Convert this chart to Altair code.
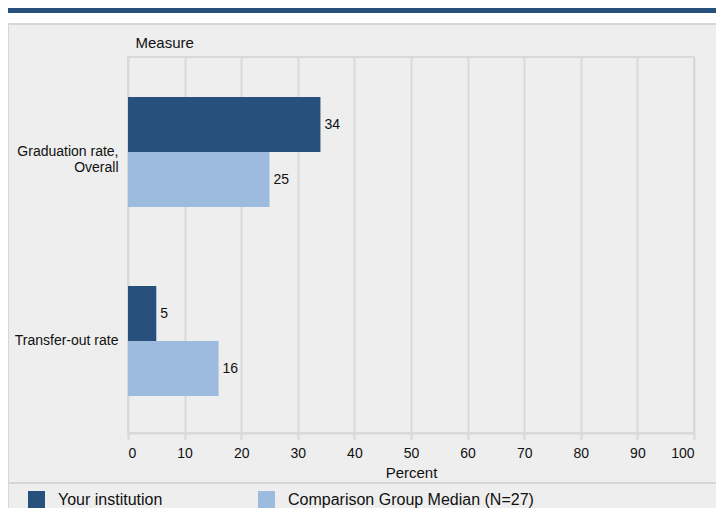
import altair as alt
import pandas as pd

measures = ["Graduation rate, Overall", "Transfer-out rate"]
series = ["Your institution", "Comparison Group Median (N=27)"]
your_values = [34, 5]
comparison_values = [25, 16]
x_ticks = [0, 10, 20, 30, 40, 50, 60, 70, 80, 90, 100]

DARK = "#27507C"
LIGHT = "#9DBBDF"
GRID = "#d9d9d9"
FONT = "Liberation Sans"

rows = []
for m, a, b in zip(measures, your_values, comparison_values):
    rows.append({"Measure": m, "Series": series[0], "Value": a})
    rows.append({"Measure": m, "Series": series[1], "Value": b})
df = pd.DataFrame(rows)

W, H = 566, 376
PL, PT, PR, PB = 120, 49, 22, 75

y_enc = alt.Y(
    "Measure:N",
    sort=measures,
    scale=alt.Scale(paddingInner=0.418, paddingOuter=0.2037, align=0.52),
    axis=alt.Axis(
        title="Measure",
        titleAngle=0,
        titleAlign="left",
        titleBaseline="alphabetic",
        titleX=7,
        titleY=-10,
        titleFontSize=15,
        titleFontWeight="normal",
        titleFont=FONT,
        titleColor="#111",
        labelFont=FONT,
        labelFontSize=14,
        labelColor="#111",
        labelPadding=10,
        labelLineHeight=16,
        labelExpr="datum.label == 'Graduation rate, Overall' ? ['Graduation rate,', 'Overall'] : datum.label",
        ticks=False,
        domain=False,
        grid=False,
    ),
)

x_enc = alt.X(
    "Value:Q",
    scale=alt.Scale(domain=[0, 100], nice=False),
    axis=alt.Axis(
        title="Percent",
        values=x_ticks,
        titleFont=FONT,
        titleFontSize=15,
        titleFontWeight="normal",
        titleColor="#111",
        titleBaseline="alphabetic",
        titleY=44,
        labelFont=FONT,
        labelFontSize=14,
        labelColor="#111",
        labelBaseline="alphabetic",
        labelPadding=17,
        tickSize=7,
        tickColor=GRID,
        tickWidth=2,
        domainColor=GRID,
        domainWidth=2,
        gridColor=GRID,
        gridWidth=2,
    ),
)

color_enc = alt.Color(
    "Series:N",
    sort=series,
    scale=alt.Scale(domain=series, range=[DARK, LIGHT]),
    legend=alt.Legend(
        title=None,
        orient="none",
        legendX=-100,
        legendY=434,
        direction="horizontal",
        symbolType="square",
        symbolSize=289,
        symbolStrokeWidth=0,
        symbolOpacity=1,
        labelFont=FONT,
        labelFontSize=16,
        labelColor="#111",
        labelOffset=13,
        labelLimit=500,
        columnPadding=95,
    ),
)

bars = alt.Chart(df).mark_bar().encode(
    x=x_enc,
    y=y_enc,
    yOffset=alt.YOffset("Series:N", sort=series, scale=alt.Scale(paddingInner=0, paddingOuter=0)),
    color=color_enc,
)

labels = alt.Chart(df).mark_text(
    align="left", baseline="middle", dx=4, font=FONT, fontSize=14, color="#111"
).encode(
    x="Value:Q",
    y=alt.Y("Measure:N", sort=measures),
    yOffset=alt.YOffset("Series:N", sort=series),
    text="Value:Q",
)

deco = pd.DataFrame({"k": [0]})
white_strip = alt.Chart(deco).mark_rect(color="white").encode(
    x=alt.value(-PL), x2=alt.value(W + PR), y=alt.value(-PT), y2=alt.value(-34)
)
top_bar = alt.Chart(deco).mark_rect(color=DARK).encode(
    x=alt.value(-PL), x2=alt.value(W + PR), y=alt.value(-PT), y2=alt.value(-44)
)
panel_top = alt.Chart(deco).mark_rule(color="#d6d6d6", strokeWidth=2).encode(
    x=alt.value(-PL), x2=alt.value(W + PR), y=alt.value(-33)
)
panel_left = alt.Chart(deco).mark_rule(color="#d6d6d6", strokeWidth=2).encode(
    x=alt.value(-PL), y=alt.value(-34), y2=alt.value(H + PB)
)
separator = alt.Chart(deco).mark_rule(color="#d6d6d6", strokeWidth=2).encode(
    x=alt.value(-PL), x2=alt.value(W + PR), y=alt.value(426)
)

chart = (
    alt.layer(white_strip, top_bar, panel_top, panel_left, separator, bars, labels)
    .properties(
        width=W,
        height=H,
        autosize=alt.AutoSizeParams(type="none"),
        padding={"left": PL, "top": PT, "right": PR, "bottom": PB},
        background="#eeeeee",
    )
    .configure_view(stroke=GRID, strokeWidth=2)
    .configure_text(font=FONT)
)

chart.save("out.html", embed_options={"renderer": "svg", "actions": False})
